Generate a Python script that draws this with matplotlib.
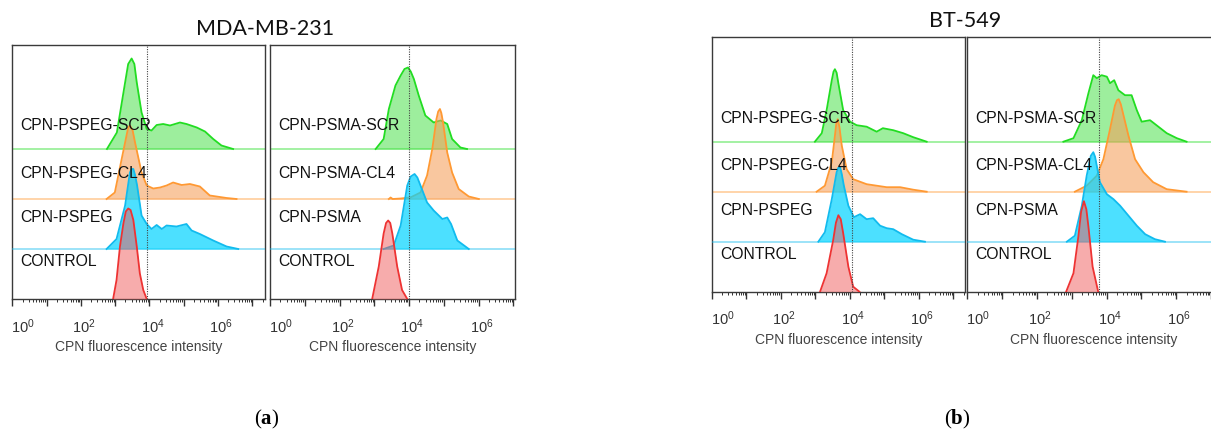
import numpy as np
import matplotlib
matplotlib.use('Agg')
import matplotlib.pyplot as plt
import matplotlib.transforms as mtransforms
from matplotlib.ticker import FixedLocator, LogLocator, NullFormatter

plt.rcParams['font.family'] = ['Liberation Sans', 'DejaVu Sans']
plt.rcParams['mathtext.fontset'] = 'custom'
plt.rcParams['mathtext.rm'] = 'Liberation Serif'
plt.rcParams['mathtext.bf'] = 'Liberation Serif:bold'
plt.rcParams['mathtext.sf'] = 'Liberation Sans'

# log10 intensity (x) and histogram height (h, in track units)
# MDA-MB-231, PSPEG
mda_peg_scr_x = [2.76, 3.05, 3.29, 3.38, 3.48, 3.56, 3.63, 3.77, 3.92, 4.06, 4.21, 4.40, 4.60, 4.89, 5.08, 5.38, 5.62, 5.86, 6.10, 6.44]
mda_peg_scr_h = [0, 0.33, 1.33, 1.70, 1.81, 1.70, 1.33, 0.73, 0.40, 0.37, 0.48, 0.50, 0.47, 0.53, 0.50, 0.43, 0.35, 0.20, 0.07, 0]
mda_peg_cl4_x = [2.75, 2.99, 3.19, 3.38, 3.43, 3.51, 3.58, 3.77, 3.92, 4.11, 4.31, 4.50, 4.69, 4.94, 5.18, 5.47, 5.76, 6.25, 6.54]
mda_peg_cl4_h = [0, 0.13, 0.80, 1.43, 1.47, 1.37, 1.13, 0.53, 0.27, 0.21, 0.23, 0.27, 0.33, 0.28, 0.30, 0.25, 0.07, 0.02, 0]
mda_peg_x = [2.75, 3.04, 3.29, 3.43, 3.48, 3.53, 3.58, 3.64, 3.77, 3.92, 4.06, 4.21, 4.36, 4.50, 4.79, 5.08, 5.23, 5.47, 5.86, 6.25, 6.59]
mda_peg_h = [0, 0.20, 0.87, 1.53, 1.60, 1.60, 1.48, 1.27, 0.67, 0.50, 0.40, 0.48, 0.40, 0.47, 0.45, 0.50, 0.37, 0.30, 0.17, 0.05, 0]
mda_peg_ctrl_x = [2.94, 3.04, 3.14, 3.24, 3.31, 3.38, 3.45, 3.53, 3.63, 3.72, 3.82, 3.92]
mda_peg_ctrl_h = [0, 0.38, 1.05, 1.51, 1.75, 1.81, 1.78, 1.58, 1.05, 0.51, 0.18, 0]

# MDA-MB-231, PSMA
mda_psma_scr_x = [3.04, 3.27, 3.42, 3.61, 3.76, 3.87, 3.97, 4.05, 4.14, 4.28, 4.47, 4.71, 4.91, 5.10, 5.24, 5.48, 5.67]
mda_psma_scr_h = [0, 0.20, 0.80, 1.27, 1.47, 1.60, 1.63, 1.55, 1.40, 1.07, 0.67, 0.53, 0.57, 0.50, 0.20, 0.03, 0]
mda_psma_cl4_x = [3.42, 3.47, 3.53, 3.76, 4.04, 4.33, 4.52, 4.67, 4.79, 4.84, 4.89, 4.93, 4.98, 5.10, 5.24, 5.43, 5.72, 6.01]
mda_psma_cl4_h = [0, 0.03, 0, 0.01, 0.03, 0.13, 0.47, 1.00, 1.60, 1.75, 1.80, 1.72, 1.53, 0.93, 0.53, 0.20, 0.05, 0]
mda_psma_x = [3.27, 3.56, 3.76, 3.95, 4.05, 4.16, 4.24, 4.33, 4.52, 4.71, 4.96, 5.10, 5.21, 5.39, 5.72]
mda_psma_h = [0, 0.07, 0.47, 1.27, 1.45, 1.50, 1.43, 1.27, 0.93, 0.77, 0.60, 0.63, 0.50, 0.17, 0]
mda_psma_ctrl_x = [2.94, 3.13, 3.27, 3.34, 3.40, 3.46, 3.52, 3.66, 3.80, 3.95]
mda_psma_ctrl_h = [0, 0.65, 1.31, 1.52, 1.57, 1.52, 1.31, 0.65, 0.18, 0]

# BT-549, PSPEG
bt_peg_scr_x = [2.99, 3.19, 3.33, 3.48, 3.53, 3.57, 3.62, 3.67, 3.81, 4.01, 4.20, 4.49, 4.78, 4.96, 5.26, 5.55, 5.84, 6.23]
bt_peg_scr_h = [0, 0.17, 0.63, 1.23, 1.40, 1.45, 1.38, 1.17, 0.63, 0.40, 0.33, 0.30, 0.20, 0.27, 0.23, 0.17, 0.09, 0]
bt_peg_cl4_x = [3.04, 3.28, 3.48, 3.57, 3.61, 3.65, 3.70, 3.77, 3.91, 4.10, 4.49, 5.07, 5.46, 5.84, 6.23]
bt_peg_cl4_h = [0, 0.12, 0.59, 1.12, 1.36, 1.45, 1.30, 0.92, 0.45, 0.25, 0.15, 0.09, 0.09, 0.04, 0]
bt_peg_x = [3.09, 3.28, 3.48, 3.62, 3.67, 3.72, 3.77, 3.83, 3.96, 4.12, 4.30, 4.49, 4.68, 4.88, 5.07, 5.26, 5.51, 5.84, 6.18]
bt_peg_h = [0, 0.19, 0.85, 1.39, 1.48, 1.49, 1.35, 1.12, 0.72, 0.49, 0.55, 0.45, 0.47, 0.32, 0.27, 0.25, 0.15, 0.04, 0]
bt_peg_ctrl_x = [3.14, 3.33, 3.52, 3.60, 3.67, 3.74, 3.81, 3.96, 4.10, 4.28]
bt_peg_ctrl_h = [0, 0.37, 1.03, 1.38, 1.53, 1.45, 1.17, 0.50, 0.10, 0]

# BT-549, PSMA
bt_psma_scr_x = [2.76, 3.05, 3.29, 3.48, 3.62, 3.72, 3.86, 4.01, 4.10, 4.22, 4.34, 4.53, 4.72, 4.87, 5.01, 5.25, 5.49, 5.73, 6.02, 6.30]
bt_psma_scr_h = [0, 0.07, 0.43, 0.97, 1.33, 1.27, 1.33, 1.30, 1.17, 1.23, 1.03, 0.93, 0.93, 0.63, 0.40, 0.43, 0.30, 0.17, 0.07, 0]
bt_psma_cl4_x = [3.09, 3.43, 3.72, 3.91, 4.10, 4.24, 4.30, 4.35, 4.41, 4.48, 4.63, 4.82, 5.06, 5.34, 5.73, 6.30]
bt_psma_cl4_h = [0, 0.12, 0.32, 0.65, 1.25, 1.72, 1.83, 1.85, 1.75, 1.55, 1.12, 0.65, 0.39, 0.19, 0.05, 0]
bt_psma_x = [2.86, 3.09, 3.29, 3.43, 3.55, 3.62, 3.67, 3.72, 3.81, 4.01, 4.20, 4.39, 4.63, 4.87, 5.11, 5.39, 5.68]
bt_psma_h = [0, 0.12, 0.72, 1.32, 1.72, 1.79, 1.70, 1.52, 1.19, 0.95, 0.85, 0.72, 0.52, 0.32, 0.15, 0.05, 0]
bt_psma_ctrl_x = [2.84, 3.05, 3.19, 3.27, 3.35, 3.42, 3.48, 3.60, 3.76]
bt_psma_ctrl_h = [0, 0.37, 1.10, 1.60, 1.81, 1.65, 1.30, 0.50, 0]

peg_labels = ['CPN-PSPEG-SCR', 'CPN-PSPEG-CL4', 'CPN-PSPEG', 'CONTROL']
psma_labels = ['CPN-PSMA-SCR', 'CPN-PSMA-CL4', 'CPN-PSMA', 'CONTROL']
label_y = [3.46, 2.52, 1.62, 0.74]
gates = [3.93, 4.0, 4.07, 3.78]

# fill colour, alpha, edge colour for SCR / CL4 / plain / control
styles = [('#33dd33', 0.48, '#22dd22'),
          ('#f5a05a', 0.58, '#ff9933'),
          ('#00d4ff', 0.70, '#11bbee'),
          ('#f05a5a', 0.50, '#ee3333')]

W, H = 1211, 433
fig = plt.figure(figsize=(12.11, 4.33), dpi=100)


def panel(px, xmax, curves, labels, gate):
    x0, x1, ytop, ybot = px
    ax = fig.add_axes([x0 / W, (H - ybot) / H, (x1 - x0) / W, (ybot - ytop) / H])
    top = (ybot - ytop) / 50.0
    for i, ((cx, ch), (fc, al, ec)) in enumerate(zip(curves, styles)):
        off = 3 - i
        xs = 10 ** np.array(cx)
        hs = off + np.array(ch)
        if off > 0:
            ax.axhline(off, color=ec, alpha=0.45, lw=1.3, zorder=1 + i)
        ax.fill_between(xs, off, hs, color=fc, alpha=al, lw=0, zorder=1 + i)
        ax.plot(xs, hs, color=ec, lw=1.3, zorder=1 + i, solid_joinstyle='round')
    ax.axvline(10 ** gate, color='#444444', lw=0.8, ls=(0, (1, 1.2)), zorder=6)
    tr = mtransforms.blended_transform_factory(ax.transAxes, ax.transData)
    for lab, y in zip(labels, label_y):
        ax.text(0.032, y, lab, transform=tr, fontsize=11.3, va='center', ha='left',
                color='#111111', zorder=10)
    ax.set_xscale('log')
    ax.set_xlim(1, 10 ** xmax)
    ax.set_ylim(0, top)
    ax.set_yticks([])
    ax.xaxis.set_major_locator(FixedLocator(10.0 ** np.arange(0, 8)))
    ax.set_xticklabels([r'$\mathsf{10^{%d}}$' % k if k % 2 == 0 else '' for k in range(8)])
    ax.xaxis.set_minor_locator(LogLocator(base=10, subs=np.arange(2, 10), numticks=30))
    ax.xaxis.set_minor_formatter(NullFormatter())
    ax.tick_params(axis='x', which='major', length=5, width=1.0, direction='out',
                   pad=8, labelsize=10.5, colors='#333333')
    ax.tick_params(axis='x', which='minor', length=2.5, width=0.7, direction='out',
                   colors='#333333')
    for sp in ax.spines.values():
        sp.set_color('#3a3a3a')
        sp.set_linewidth(1.0)
    for k, tl in enumerate(ax.get_xticklabels()):
        dx = 11.0 if k == 0 else 3.0
        tl.set_transform(tl.get_transform() + mtransforms.ScaledTranslation(dx / 100, 0, fig.dpi_scale_trans))
    ax.set_xlabel('CPN fluorescence intensity', fontsize=10, color='#444444', labelpad=3)
    return ax


panel((12.3, 265, 45, 299), 7.37,
      [(mda_peg_scr_x, mda_peg_scr_h), (mda_peg_cl4_x, mda_peg_cl4_h),
       (mda_peg_x, mda_peg_h), (mda_peg_ctrl_x, mda_peg_ctrl_h)], peg_labels, gates[0])
panel((270, 515, 45, 299), 7.05,
      [(mda_psma_scr_x, mda_psma_scr_h), (mda_psma_cl4_x, mda_psma_cl4_h),
       (mda_psma_x, mda_psma_h), (mda_psma_ctrl_x, mda_psma_ctrl_h)], psma_labels, gates[1])
panel((711.7, 965, 36.7, 291.7), 7.34,
      [(bt_peg_scr_x, bt_peg_scr_h), (bt_peg_cl4_x, bt_peg_cl4_h),
       (bt_peg_x, bt_peg_h), (bt_peg_ctrl_x, bt_peg_ctrl_h)], peg_labels, gates[2])
panel((967.3, 1220, 36.7, 291.7), 7.26,
      [(bt_psma_scr_x, bt_psma_scr_h), (bt_psma_cl4_x, bt_psma_cl4_h),
       (bt_psma_x, bt_psma_h), (bt_psma_ctrl_x, bt_psma_ctrl_h)], psma_labels, gates[3])

fig.text(265 / W, 1 - 29 / H, 'MDA-MB-231', ha='center', va='center', fontsize=15.5,
         family=['Lato', 'DejaVu Sans'], color='#111111')
fig.text(965 / W, 1 - 21 / H, 'BT-549', ha='center', va='center', fontsize=15.5,
         family=['Lato', 'DejaVu Sans'], color='#111111')
fig.text(267 / W, 1 - 419 / H, r'$(\mathbf{a})$', ha='center', va='center', fontsize=15)
fig.text(957 / W, 1 - 419 / H, r'$(\mathbf{b})$', ha='center', va='center', fontsize=15)

fig.savefig('out.png', dpi=100, facecolor='white')
